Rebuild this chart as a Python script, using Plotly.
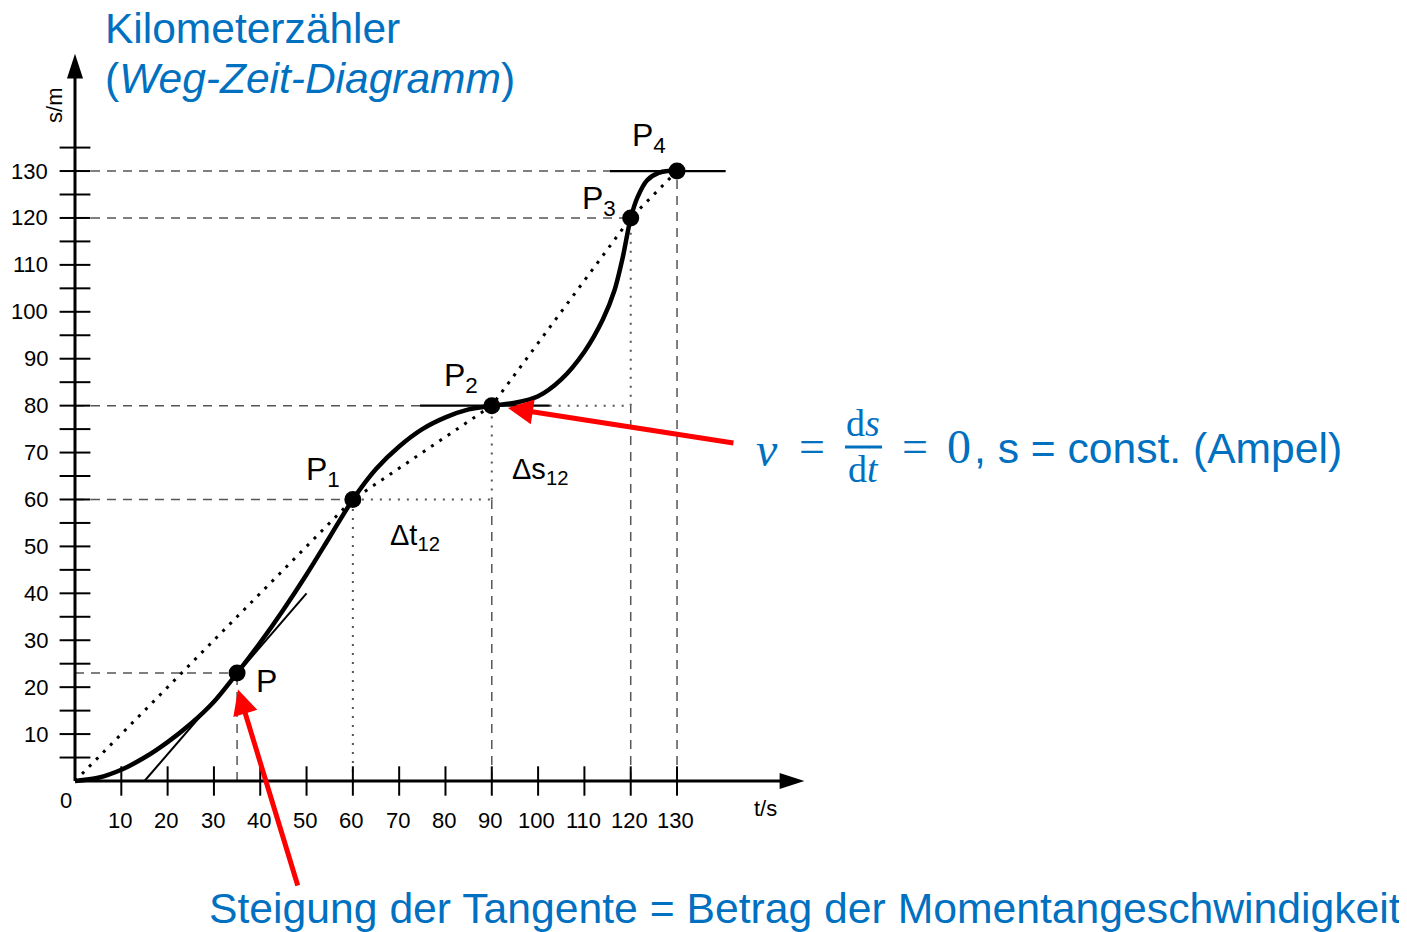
import plotly.graph_objects as go

# page has an 8px body margin -> figure is 8px smaller and everything is shifted by 8px
OFF = 8
W, H = 1407 - OFF, 932 - OFF

# ---------------- data ----------------
t_curve = [0, 5, 10, 15, 20, 25, 30, 35, 40, 45, 50, 55, 60, 65, 70, 75, 80, 85, 90,
           95, 100, 105, 110, 114, 116.5, 118.3, 120, 121.5, 123.5, 126, 128, 130]
s_curve = [0, 0.7, 2.4, 5.0, 8.3, 12.2, 16.9, 23, 29.5, 36.5, 44, 52, 60, 66.5, 71.3, 75, 77.5, 79.2, 80,
           80.6, 82.0, 85.6, 91.5, 98.4, 104.6, 111.7, 120, 124.5, 128.0, 129.6, 130, 130]

point_names = ["P", "P<sub>1</sub>", "P<sub>2</sub>", "P<sub>3</sub>", "P<sub>4</sub>"]
point_t = [35, 60, 90, 120, 130]
point_s = [23, 60, 80, 120, 130]

secant_t = [0, 60, 90, 120, 130]
secant_s = [0, 60, 80, 120, 130]

tangent_P_t = [15, 50]
tangent_P_s = [0, 40]
tangent_P2_t = [74.5, 102.5]
tangent_P4_t = [115.5, 140.5]

x_tick_vals = [10, 20, 30, 40, 50, 60, 70, 80, 90, 100, 110, 120, 130]
y_tick_vals = [5, 10, 15, 20, 25, 30, 35, 40, 45, 50, 55, 60, 65, 70, 75, 80, 85, 90,
               95, 100, 105, 110, 115, 120, 125, 130, 135]
y_label_vals = [10, 20, 30, 40, 50, 60, 70, 80, 90, 100, 110, 120, 130]
x_axis_end = 157.5
y_axis_end = 155

# axis scale (px per unit) and ranges
SX, SY = 4.631, 4.692
X0 = -(75 - OFF) / SX
X1 = X0 + W / SX
Y1 = (781 - OFF) / SY
Y0 = Y1 - H / SY

BLUE = "#0070C0"
GREY = "#555555"
FONT = "Liberation Sans, Arial, sans-serif"
SERIF = "Liberation Serif, DejaVu Serif, serif"

fig = go.Figure()


def seg(xs, ys, dash, width=1.5, color=GREY):
    fig.add_trace(go.Scatter(x=xs, y=ys, mode="lines", hoverinfo="skip",
                             line=dict(color=color, width=width, dash=dash)))


N = None
# dashed reference lines
seg([0, tangent_P4_t[0], N, 0, point_t[3], N, 0, tangent_P2_t[0], N, 0, point_t[1], N, 0, point_t[0]],
    [point_s[4], point_s[4], N, point_s[3], point_s[3], N, point_s[2], point_s[2], N,
     point_s[1], point_s[1], N, point_s[0], point_s[0]], "9px,7px")
seg([point_t[0], point_t[0], N, point_t[2], point_t[2], N, point_t[3], point_t[3], N, point_t[4], point_t[4]],
    [0, point_s[0], N, 0, point_s[1], N, 0, point_s[2], N, 0, point_s[4]], "9px,7px")
# dotted reference lines
seg([point_t[1], point_t[2], N, tangent_P2_t[1], point_t[3], N, point_t[1], point_t[1], N,
     point_t[2], point_t[2], N, point_t[3], point_t[3]],
    [point_s[1], point_s[1], N, point_s[2], point_s[2], N, 0, point_s[1], N,
     point_s[1], point_s[2], N, point_s[2], point_s[3]], "2px,7px", width=2)

# secant (dotted)
seg(secant_t, secant_s, "3px,7px", width=3, color="black")

# tangents
seg(tangent_P_t, tangent_P_s, "solid", width=2, color="black")
seg(tangent_P2_t, [point_s[2]] * 2, "solid", width=2.2, color="black")
seg(tangent_P4_t, [point_s[4]] * 2, "solid", width=2.2, color="black")

# curve
fig.add_trace(go.Scatter(x=t_curve, y=s_curve, mode="lines", hoverinfo="skip",
                         line=dict(color="black", width=4.5, shape="spline", smoothing=0.8)))

# axes
seg([0, x_axis_end - 2], [0, 0], "solid", width=3, color="black")
seg([0, 0], [0, y_axis_end - 2], "solid", width=3, color="black")
fig.add_trace(go.Scatter(x=[x_axis_end], y=[0], mode="markers", hoverinfo="skip",
                         marker=dict(symbol="arrow", angle=90, size=26, color="black")))
fig.add_trace(go.Scatter(x=[0], y=[y_axis_end], mode="markers", hoverinfo="skip",
                         marker=dict(symbol="arrow", angle=0, size=26, color="black")))

# ticks
fig.add_trace(go.Scatter(x=x_tick_vals, y=[0] * len(x_tick_vals), mode="markers", hoverinfo="skip",
                         marker=dict(symbol="line-ns-open", size=21, color="black",
                                     line=dict(width=2, color="black"))))
fig.add_trace(go.Scatter(x=[0] * len(y_tick_vals), y=y_tick_vals, mode="markers", hoverinfo="skip",
                         marker=dict(symbol="line-ew-open", size=22, color="black",
                                     line=dict(width=2, color="black"))))

# points
fig.add_trace(go.Scatter(x=point_t, y=point_s, mode="markers", hoverinfo="skip",
                         marker=dict(symbol="circle", size=17, color="black")))

ann = []
# tick labels
for v in y_label_vals:
    ann.append(dict(x=-5.4, y=v, text=str(v), xanchor="right", yanchor="middle",
                    showarrow=False, font=dict(family=FONT, size=22, color="black")))
for v in x_tick_vals:
    ann.append(dict(x=v - 0.3, y=-8.4, text=str(v), xanchor="center", yanchor="middle",
                    showarrow=False, font=dict(family=FONT, size=22, color="black")))
ann.append(dict(x=-1.9, y=-4.1, text="0", xanchor="center", yanchor="middle",
                showarrow=False, font=dict(family=FONT, size=22, color="black")))
ann.append(dict(x=149.2, y=-5.8, text="t/s", xanchor="center", yanchor="middle",
                showarrow=False, font=dict(family=FONT, size=22, color="black")))
ann.append(dict(x=-4.4, y=144, text="s/m", textangle=-90, xanchor="center", yanchor="middle",
                showarrow=False, font=dict(family=FONT, size=22, color="black")))

# point labels
label_pos = [(41.4, 21.4), (53.5, 66.0), (83.4, 86.0), (113.2, 123.8), (124.0, 137.2)]
for name, (lx, ly) in zip(point_names, label_pos):
    ann.append(dict(x=lx, y=ly, text=name, xanchor="center", yanchor="middle", showarrow=False,
                    font=dict(family=FONT, size=32, color="black")))
ann.append(dict(x=100.5, y=66.0, text="\u0394s<sub>12</sub>", xanchor="center", yanchor="middle",
                showarrow=False, font=dict(family=FONT, size=29, color="black")))
ann.append(dict(x=73.5, y=52.0, text="\u0394t<sub>12</sub>", xanchor="center", yanchor="middle",
                showarrow=False, font=dict(family=FONT, size=29, color="black")))

# red arrows
ann.append(dict(x=93.5, y=79.5, ax=142.5, ay=72.0, xref="x", yref="y", axref="x", ayref="y",
                text="", showarrow=True, arrowhead=2, arrowsize=1.0, arrowwidth=5, arrowcolor="#FF0000"))
ann.append(dict(x=35.2, y=19.5, ax=48.2, ay=-22.6, xref="x", yref="y", axref="x", ayref="y",
                text="", showarrow=True, arrowhead=2, arrowsize=1.0, arrowwidth=5, arrowcolor="#FF0000"))


# blue texts (paper coordinates, given as reference-page pixels)
def P(px, py):
    return (px - OFF) / W, 1 - (py - OFF) / H


def txt(px, py, text, family, size, anchor="left"):
    x, y = P(px, py)
    ann.append(dict(x=x, y=y, xref="paper", yref="paper", text=text, xanchor=anchor,
                    yanchor="middle", showarrow=False, font=dict(family=family, size=size, color=BLUE)))


txt(103, 29, "Kilometerzähler", FONT, 42.5)
txt(103, 79, "(<i>Weg-Zeit-Diagramm</i>)", FONT, 42.5)
txt(207, 908, "Steigung der Tangente = Betrag der Momentangeschwindigkeit", FONT, 42.7)
# formula
txt(767, 449, "<i>v</i>", SERIF, 48, "center")
txt(812, 446, "=", SERIF, 46, "center")
txt(863, 423, "d<i>s</i>", SERIF, 38, "center")
txt(863, 469, "d<i>t</i>", SERIF, 38, "center")
txt(915, 446, "=", SERIF, 46, "center")
txt(959, 447, "0", SERIF, 48, "center")
txt(972, 448, ", s = const. (Ampel)", FONT, 42.6)

x0, y0 = P(845, 447)
x1, _ = P(882, 447)
fig.add_shape(type="line", xref="paper", yref="paper", x0=x0, x1=x1, y0=y0, y1=y0,
              line=dict(color=BLUE, width=3))

fig.update_layout(
    width=W, height=H, margin=dict(l=0, r=0, t=0, b=0, pad=0),
    paper_bgcolor="white", plot_bgcolor="white", showlegend=False,
    xaxis=dict(range=[X0, X1], visible=False, fixedrange=True),
    yaxis=dict(range=[Y0, Y1], visible=False, fixedrange=True),
    annotations=ann,
)

fig.write_html("out.html")
